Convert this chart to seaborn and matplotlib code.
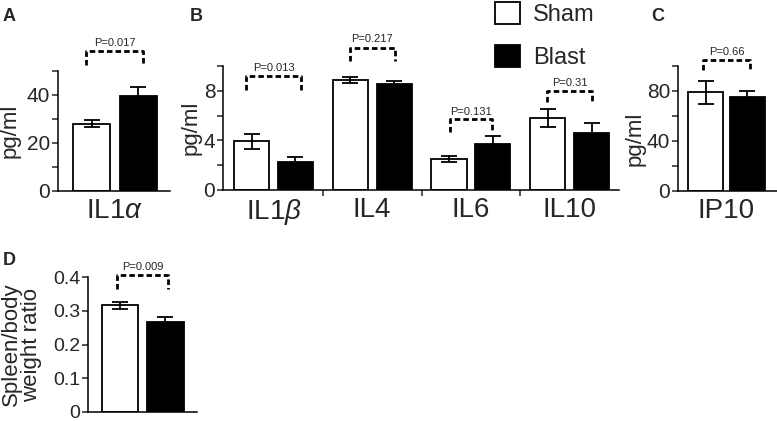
import matplotlib
matplotlib.use("Agg")
import matplotlib.pyplot as plt
import seaborn as sns
import pandas as pd
from matplotlib.ticker import MultipleLocator, FixedLocator

# ---------------- data ----------------
groups = ["Sham", "Blast"]

a_cats = [r"IL1$\alpha$"]
a_sham = [28.0]
a_sham_sem = [1.5]
a_blast = [39.6]
a_blast_sem = [3.7]
a_p = ["P=0.017"]

b_cats = [r"IL1$\beta$", "IL4", "IL6", "IL10"]
b_sham = [3.92, 8.85, 2.5, 5.8]
b_sham_sem = [0.6, 0.25, 0.25, 0.7]
b_blast = [2.26, 8.58, 3.7, 4.6]
b_blast_sem = [0.38, 0.17, 0.62, 0.8]
b_p = ["P=0.013", "P=0.217", "P=0.131", "P=0.31"]

c_cats = ["IP10"]
c_sham = [79.0]
c_sham_sem = [9.2]
c_blast = [75.0]
c_blast_sem = [4.8]
c_p = ["P=0.66"]

d_cats = [""]
d_sham = [0.316]
d_sham_sem = [0.011]
d_blast = [0.266]
d_blast_sem = [0.015]
d_p = ["P=0.009"]

# ---------------- style ----------------
sns.set_style("ticks")
plt.rcParams["font.family"] = ["Liberation Sans", "DejaVu Sans"]
plt.rcParams["mathtext.fontset"] = "custom"
plt.rcParams["mathtext.rm"] = "Liberation Sans"
plt.rcParams["mathtext.it"] = "Liberation Sans:italic"
plt.rcParams["axes.linewidth"] = 1.1
plt.rcParams["axes.edgecolor"] = "black"

W, H = 777, 421
fig = plt.figure(figsize=(W / 100, H / 100), dpi=100)


def px_axes(x0, y0, x1, y1):
    return fig.add_axes([x0 / W, 1 - y1 / H, (x1 - x0) / W, (y1 - y0) / H])


PFONT = ["Liberation Sans Narrow", "Liberation Sans", "DejaVu Sans"]


def panel(ax, cats, sham, sham_sem, blast, blast_sem, pvals, ylim, major, minor,
          xlim, width, gap, brackets, ylabel, ylab_xy, xlab_size=20, ytick_size=15):
    n = len(cats)
    df = pd.DataFrame({
        "cat": cats * 2,
        "group": [groups[0]] * n + [groups[1]] * n,
        "value": sham + blast,
    })
    sns.barplot(data=df, x="cat", y="value", hue="group", hue_order=groups,
                palette={groups[0]: "white", groups[1]: "black"},
                edgecolor="black", linewidth=1.3, width=width, gap=gap,
                errorbar=None, legend=False, ax=ax, zorder=2)
    for cont, sems in zip(ax.containers, [sham_sem, blast_sem]):
        xs = [r.get_x() + r.get_width() / 2 for r in cont.patches]
        ys = [r.get_height() for r in cont.patches]
        ax.errorbar(xs, ys, yerr=sems, fmt="none", ecolor="black",
                    elinewidth=1.3, capsize=6, capthick=1.3, zorder=3)
    c0 = ax.containers[0].patches
    c1 = ax.containers[1].patches
    for i, p in enumerate(pvals):
        cx = ((c0[i].get_x() + c0[i].get_width() / 2) +
              (c1[i].get_x() + c1[i].get_width() / 2)) / 2
        hw, ylo, yhi, ytxt = brackets[i]
        ax.plot([cx - hw, cx - hw, cx + hw, cx + hw], [ylo, yhi, yhi, ylo],
                color="black", lw=2.0, ls=(0, (2.0, 1.1)), clip_on=False,
                zorder=4, solid_capstyle="butt", dash_capstyle="butt")
        ax.text(cx, ytxt, p, ha="center", va="center", fontsize=8,
                family=PFONT)
    ax.set_ylim(*ylim)
    ax.set_xlim(*xlim)
    ax.yaxis.set_major_locator(MultipleLocator(major))
    ax.yaxis.set_minor_locator(MultipleLocator(minor))
    ax.tick_params(axis="y", which="both", length=4, width=1.1, pad=1.5,
                   labelsize=ytick_size, direction="out")
    ax.tick_params(axis="x", which="major", length=0, pad=5, labelsize=xlab_size)
    ax.set_xlabel("")
    ax.set_ylabel(ylabel, fontsize=16, linespacing=0.95)
    ax.yaxis.set_label_coords(*ylab_xy)
    sns.despine(ax=ax)


# Panel A
axA = px_axes(58, 71, 170, 191)
panel(axA, a_cats, a_sham, a_sham_sem, a_blast, a_blast_sem, a_p,
      (0, 50), 20, 10, (-0.49, 0.475), 0.8, 0.2,
      [(0.245, 52.5, 58.3, 61.6)], "pg/ml", (-0.33, 0.5))

# Panel B
axB = px_axes(223, 66, 619, 190)
panel(axB, b_cats, b_sham, b_sham_sem, b_blast, b_blast_sem, b_p,
      (0, 10), 4, 2, (-0.512, 3.5), 0.89, 0.2,
      [(0.28, 8.06, 9.2, 9.86), (0.23, 10.4, 11.46, 12.2),
       (0.215, 4.66, 5.76, 6.3), (0.23, 7.06, 8.0, 8.6)],
      "pg/ml", (-0.055, 0.5))
axB.xaxis.set_minor_locator(FixedLocator([0.5, 1.5, 2.5]))
axB.tick_params(axis="x", which="minor", length=4, width=1.1, direction="out")

# Panel C
axC = px_axes(678, 66, 777, 191)
panel(axC, c_cats, c_sham, c_sham_sem, c_blast, c_blast_sem, c_p,
      (0, 100), 40, 20, (-0.467, 0.487), 0.8, 0.15,
      [(0.222, 96.8, 104.8, 111.4)], "pg/ml", (-0.33, 0.42))

# Panel D
axD = px_axes(88, 277, 197, 412)
panel(axD, d_cats, d_sham, d_sham_sem, d_blast, d_blast_sem, d_p,
      (0, 0.4), 0.1, 0.1, (-0.481, 0.477), 0.8, 0.19,
      [(0.225, 0.363, 0.406, 0.43)], "Spleen/body\nweight ratio", (-0.42, 0.5),
      ytick_size=14)
axD.yaxis.set_major_formatter(plt.FuncFormatter(lambda v, _: "0" if v == 0 else f"{v:.1f}"))

# Legend
handles = [axB.containers[0].patches[0], axB.containers[1].patches[0]]
fig.legend(handles, groups, loc="upper left", bbox_to_anchor=(495 / W, 1 - 2 / H),
           frameon=False, fontsize=17, handlelength=1.05, handleheight=1.05,
           handletextpad=0.55, labelspacing=0.8, borderpad=0, borderaxespad=0)

# Panel letters
for lab, x, y in [("A", 3, 8), ("B", 190, 8), ("C", 651, 8), ("D", 3, 252)]:
    fig.text(x / W, 1 - y / H, lab, fontsize=13, fontweight="bold",
             ha="left", va="top")

fig.savefig("out.png", dpi=100)
